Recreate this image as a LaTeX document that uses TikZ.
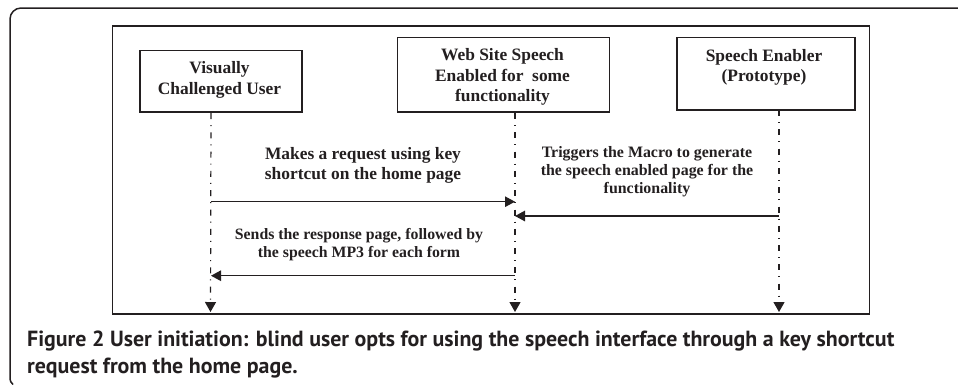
\documentclass[tikz,border=0pt]{standalone}
\usepackage{fontspec}
\setmainfont{Liberation Serif}
\newfontfamily\capfont{PT Sans}
\usetikzlibrary{arrows.meta}
\definecolor{ink}{HTML}{231F20}
\tikzset{
  x=1pt,y=-1pt,
  actor/.style={draw=ink,line width=1.7pt,fill=white,inner sep=0pt,anchor=north west},
  actorlabel/.style={text=ink,font=\bfseries\fontsize{17.4}{20.5}\selectfont,align=center},
  msglabel/.style={text=ink,align=center,inner sep=0pt},
  lifeline/.style={draw=ink,line width=1.2pt,dash pattern=on 6pt off 6pt on 1pt off 6.3pt,-{Triangle[length=10pt,width=11pt]}},
  msg/.style={draw=ink,-{Triangle[length=10pt,width=10.5pt]}},
  caption/.style={text=ink,anchor=base west,inner sep=0pt,font=\capfont\bfseries\fontsize{21.9}{24}\selectfont}
}
\begin{document}
\begin{tikzpicture}
\useasboundingbox (0,0) rectangle (958,384);
\draw[draw=ink,line width=1.5pt] (958,8) -- (21,8) .. controls (15,8) and (10,13) .. (10,19) -- (10,377) .. controls (10,381) and (11,383) .. (13,384.5);
\node[draw=ink,line width=1.7pt,minimum width=757pt,minimum height=288pt,inner sep=0pt,anchor=north west] (frame) at (111.5,25) {};
\node[actor,minimum width=162pt,minimum height=61.5pt] (user) at (139,49.5) {};
\node[actor,minimum width=212pt,minimum height=74.5pt] (site) at (396.5,36.5) {};
\node[actor,minimum width=178pt,minimum height=72.5pt] (enabler) at (676,36.5) {};
\node[actorlabel] (userlabel) at (219.5,80) {Visually\\Challenged User};
\node[actorlabel] (sitelabel) at (502.5,77) {Web Site Speech\\Enabled for\ \ some\\functionality};
\node[actorlabel] (enablerlabel) at (764,67.5) {Speech Enabler\\(Prototype)};
\coordinate (userend) at (210.5,312);
\coordinate (siteend) at (515,312);
\coordinate (enablerend) at (779,312);
\coordinate (usertop) at (211,113);
\coordinate (sitetop) at (515,113);
\coordinate (enablertop) at (779,110);
\draw[lifeline] (usertop) -- (userend);
\draw[lifeline] (sitetop) -- (siteend);
\draw[lifeline] (enablertop) -- (enablerend);
\coordinate (a1s) at (211,201.7);
\coordinate (a1e) at (515,201.7);
\coordinate (a2s) at (779,216);
\coordinate (a2e) at (515,216);
\coordinate (a3s) at (515,275.7);
\coordinate (a3e) at (211,275.7);
\draw[msg,line width=1pt] (a1s) -- (a1e);
\draw[msg,line width=1.4pt] (a2s) -- (a2e);
\draw[msg,line width=1.4pt] (a3s) -- (a3e);
\node[msglabel,font=\bfseries\fontsize{17.4}{20.5}\selectfont] (m1) at (363,165.5) {Makes a request using key\\shortcut on the home page};
\node[msglabel,font=\bfseries\fontsize{15.9}{18}\selectfont] (m2) at (647,172) {Triggers the Macro to generate\\the speech enabled page for the\\functionality};
\node[msglabel,font=\bfseries\fontsize{15.8}{18.4}\selectfont] (m3) at (359,244.5) {Sends the response page, followed by\\the speech MP3 for each form};
\node[caption] (cap1) at (27,346) {Figure 2 User initiation: blind user opts for using the speech interface through a key shortcut};
\node[caption] (cap2) at (27,373) {request from the home page.};
\end{tikzpicture}
\end{document}
